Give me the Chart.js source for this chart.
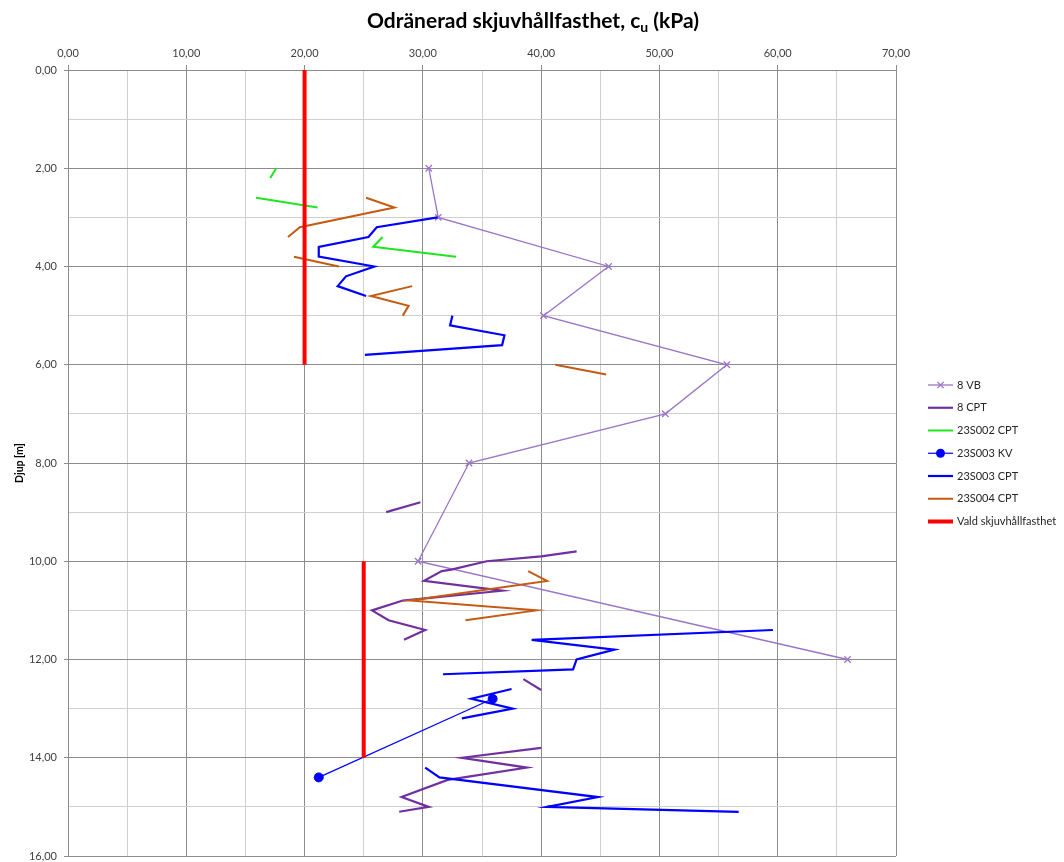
<!DOCTYPE html>
<html>
<head>
<meta charset="utf-8">
<script src="https://cdn.jsdelivr.net/npm/chart.js@4.4.1/dist/chart.umd.min.js"></script>
<style>
  html, body { margin: 0; padding: 0; background: #ffffff; }
  canvas { display: block; }
</style>
</head>
<body>
<canvas id="chart" width="1064" height="862"></canvas>
<script>
// Depth [m] and undrained shear strength cu [kPa]; null splits a series into separate runs.
const vb8Depth = [2.0, 3.0, 4.0, 5.0, 6.0, 7.0, 8.0, 10.0, 12.0];
const vb8Cu    = [30.5, 31.3, 45.7, 40.2, 55.7, 50.5, 33.9, 29.6, 65.9];

const cpt8Depth = [9.0, 8.8, null, 9.8, 9.9, 10.0, 10.17, 10.2, 10.4, 10.6, 10.8, 11.0, 11.2, 11.4, 11.6, null,
                   12.4, 12.62, null, 13.8, 14.0, 14.2, 14.45, 14.8, 15.0, 15.1];
const cpt8Cu    = [26.9, 29.8, null, 43.0, 40.0, 35.4, 32.4, 31.6, 30.1, 36.7, 28.3, 25.7, 27.1, 30.2, 28.4, null,
                   38.5, 40.0, null, 40.0, 33.3, 38.8, 32.1, 28.2, 30.5, 28.0];

const s002CptDepth = [2.0, 2.2, null, 2.6, 2.8, null, 3.4, 3.6, 3.8];
const s002CptCu    = [17.6, 17.1, null, 15.9, 21.1, null, 26.6, 25.8, 32.8];

const s003KvDepth = [12.8, 14.4];
const s003KvCu    = [35.9, 21.2];

const s003CptDepth = [3.0, 3.2, 3.4, 3.6, 3.8, 4.0, 4.2, 4.4, 4.6, null,
                      5.0, 5.2, 5.4, 5.6, 5.8, null,
                      11.4, 11.6, 11.8, 12.0, 12.2, 12.3, null,
                      12.6, 12.8, 13.0, 13.2, null,
                      14.2, 14.4, 14.8, 15.0, 15.1];
const s003CptCu    = [31.25, 26.1, 25.4, 21.2, 21.2, 25.9, 23.5, 22.8, 25.2, null,
                      32.5, 32.3, 36.9, 36.7, 25.1, null,
                      59.6, 39.2, 46.2, 43.0, 42.7, 31.7, null,
                      37.5, 34.1, 37.6, 33.3, null,
                      30.2, 31.4, 44.8, 40.5, 56.7];

const s004CptDepth = [2.6, 2.8, 3.2, 3.4, null, 3.8, 4.0, null, 4.4, 4.6, 4.8, 5.0, null,
                      6.0, 6.2, null, 10.2, 10.4, 10.8, 11.0, 11.2];
const s004CptCu    = [25.2, 27.6, 19.6, 18.6, null, 19.1, 22.9, null, 29.1, 25.6, 28.8, 28.3, null,
                      41.2, 45.5, null, 38.9, 40.5, 28.9, 39.6, 33.6];

const chosenDepth = [0, 6, null, 10, 14];
const chosenCu    = [20, 20, null, 25, 25];

const seriesNames = ['8 VB', '8 CPT', '23S002 CPT', '23S003 KV', '23S003 CPT', '23S004 CPT', 'Vald skjuvhållfasthet'];

const xTicks = { min: 0, max: 70, step: 5, labelEvery: 10 };
const yTicks = { min: 0, max: 16, step: 1, labelEvery: 2 };

const FONT = 'Lato, "Liberation Sans", Arial, sans-serif';

function points(depths, values) {
  return depths.map((d, i) => (d === null || values[i] === null) ? { x: null, y: null } : { x: values[i], y: d });
}
function fmt(v) { return v.toFixed(2).replace('.', ','); }

const styles = [
  { color: '#9a74c9', width: 1.3, pointStyle: 'crossRot', radius: 4.5 },
  { color: '#7030a0', width: 2.2, pointStyle: false, radius: 0 },
  { color: '#1ee61e', width: 2.0, pointStyle: false, radius: 0 },
  { color: '#0000ff', width: 1.2, pointStyle: 'circle', radius: 4.5 },
  { color: '#0000ff', width: 2.2, pointStyle: false, radius: 0 },
  { color: '#c55a11', width: 2.0, pointStyle: false, radius: 0 },
  { color: '#ff0000', width: 4.0, pointStyle: false, radius: 0 }
];
const seriesData = [
  points(vb8Depth, vb8Cu),
  points(cpt8Depth, cpt8Cu),
  points(s002CptDepth, s002CptCu),
  points(s003KvDepth, s003KvCu),
  points(s003CptDepth, s003CptCu),
  points(s004CptDepth, s004CptCu),
  points(chosenDepth, chosenCu)
];

const datasets = seriesNames.map((name, i) => ({
  label: name,
  data: seriesData[i],
  showLine: true,
  spanGaps: false,
  tension: 0,
  borderColor: styles[i].color,
  backgroundColor: styles[i].color,
  borderWidth: styles[i].width,
  pointStyle: styles[i].pointStyle || 'circle',
  pointRadius: styles[i].radius,
  pointHoverRadius: styles[i].radius,
  pointBorderColor: styles[i].color,
  pointBackgroundColor: styles[i].color,
  pointBorderWidth: styles[i].pointStyle === 'crossRot' ? 1.3 : 1,
  order: seriesNames.length - i
}));

// Chart heading with subscript u, and the series key on the right side
const decorations = {
  id: 'decorations',
  afterDraw(chart) {
    const ctx = chart.ctx;
    ctx.save();
    // heading
    const big = 'bold 21px ' + FONT, small = 'bold 14px ' + FONT;
    const a = 'Odränerad skjuvhållfasthet, c', b = 'u', c = ' (kPa)';
    ctx.font = big; const wa = ctx.measureText(a).width, wc = ctx.measureText(c).width;
    ctx.font = small; const wb = ctx.measureText(b).width;
    let x = 533 - (wa + wb + wc) / 2;
    const base = 28;
    ctx.fillStyle = '#000000';
    ctx.textBaseline = 'alphabetic';
    ctx.textAlign = 'left';
    ctx.font = big; ctx.fillText(a, x, base); x += wa;
    ctx.font = small; ctx.fillText(b, x, base + 4); x += wb;
    ctx.font = big; ctx.fillText(c, x, base);

    // key
    const x0 = 928, x1 = 953, y0 = 385, dy = 22.75;
    ctx.font = '11px ' + FONT;
    ctx.textBaseline = 'middle';
    chart.data.datasets.forEach((ds, i) => {
      const y = y0 + i * dy;
      ctx.strokeStyle = ds.borderColor;
      ctx.lineWidth = i === 6 ? 4 : ds.borderWidth;
      ctx.beginPath(); ctx.moveTo(x0, y); ctx.lineTo(x1, y); ctx.stroke();
      if (ds.pointRadius > 0) {
        const r = ds.pointRadius, cx = (x0 + x1) / 2;
        ctx.fillStyle = ds.pointBackgroundColor;
        ctx.strokeStyle = ds.pointBorderColor;
        ctx.lineWidth = ds.pointBorderWidth;
        ctx.beginPath();
        if (ds.pointStyle === 'circle') {
          ctx.arc(cx, y, r, 0, Math.PI * 2); ctx.fill();
        } else {
          ctx.moveTo(cx - r * 0.7, y - r * 0.7); ctx.lineTo(cx + r * 0.7, y + r * 0.7);
          ctx.moveTo(cx + r * 0.7, y - r * 0.7); ctx.lineTo(cx - r * 0.7, y + r * 0.7);
          ctx.stroke();
        }
      }
      ctx.fillStyle = '#262626';
      ctx.fillText(ds.label, 957, y);
    });
    ctx.restore();
  }
};

const majorGrid = '#8c8c8c', minorGrid = '#cfcfcf';

new Chart(document.getElementById('chart'), {
  type: 'scatter',
  data: { datasets },
  options: {
    responsive: false,
    animation: false,
    devicePixelRatio: 1,
    layout: { padding: { left: 0, top: 0, right: 168, bottom: 6 } },
    plugins: { legend: { display: false }, tooltip: { enabled: false }, title: { display: false } },
    scales: {
      x: {
        type: 'linear', position: 'top',
        min: xTicks.min, max: xTicks.max,
        afterFit(scale) { scale.height = 70; scale.paddingLeft = 0; scale.paddingRight = 0; },
        ticks: {
          stepSize: xTicks.step, autoSkip: false, maxRotation: 0,
          padding: 5, color: '#404040', font: { family: FONT, size: 11 },
          callback: v => (v % xTicks.labelEvery === 0 ? fmt(v) : '')
        },
        grid: {
          lineWidth: 1, tickLength: 5,
          color: c => (c.tick && c.tick.value % xTicks.labelEvery === 0 ? majorGrid : minorGrid),
          tickColor: c => (c.tick && c.tick.value % xTicks.labelEvery === 0 ? majorGrid : 'rgba(0,0,0,0)')
        },
        border: { color: majorGrid, width: 1 }
      },
      y: {
        type: 'linear', reverse: true,
        min: yTicks.min, max: yTicks.max,
        afterFit(scale) { scale.width = 68; scale.paddingTop = 0; scale.paddingBottom = 0; },
        title: {
          display: true, text: 'Djup [m]', color: '#000000',
          font: { family: FONT, size: 10.5, weight: 'bold' },
          padding: { top: 13, bottom: 0 }
        },
        ticks: {
          stepSize: yTicks.step, autoSkip: false,
          padding: 7, color: '#404040', font: { family: FONT, size: 11 },
          callback: v => (v % yTicks.labelEvery === 0 ? fmt(v) : '')
        },
        grid: {
          lineWidth: 1, tickLength: 4,
          color: c => (c.tick && c.tick.value % yTicks.labelEvery === 0 ? majorGrid : minorGrid),
          tickColor: c => (c.tick && c.tick.value % yTicks.labelEvery === 0 ? majorGrid : 'rgba(0,0,0,0)')
        },
        border: { color: majorGrid, width: 1 }
      }
    }
  },
  plugins: [decorations]
});
</script>
</body>
</html>
